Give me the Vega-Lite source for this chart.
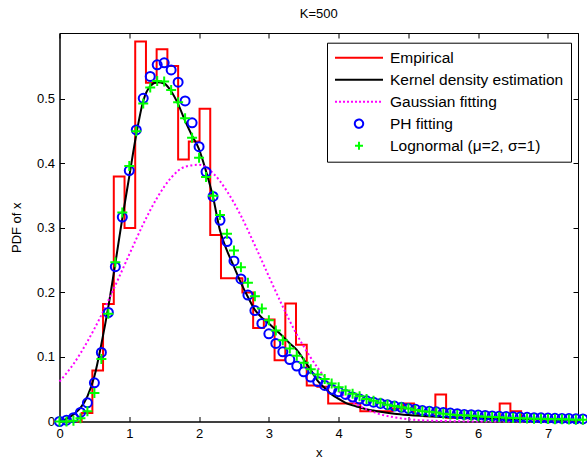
{
  "$schema": "https://vega.github.io/schema/vega-lite/v6.json",
  "width": 518.5,
  "height": 388.5,
  "autosize": {"type": "none"},
  "padding": {"left": 59.5, "top": 33, "right": 9, "bottom": 42.5},
  "background": "white",
  "title": {"text": "K=500", "fontSize": 13, "fontWeight": "normal", "font": "Liberation Sans", "offset": 12, "color": "black"},
  "config": {
    "font": "Liberation Sans",
    "view": {"stroke": "black", "strokeWidth": 1},
    "axis": {"grid": false, "domainColor": "black", "tickColor": "black", "labelColor": "black", "titleColor": "black", "labelFontSize": 13, "titleFontSize": 13, "titleFontWeight": "normal", "tickSize": -5, "labelFlush": false, "labelFont": "Liberation Sans", "titleFont": "Liberation Sans"}
  },
  "datasets": {
    "hist": [
      {"x": 0.010, "y": 0, "series": "Empirical"},
      {"x": 0.164, "y": 0.0, "series": "Empirical"},
      {"x": 0.317, "y": 0.013, "series": "Empirical"},
      {"x": 0.471, "y": 0.079, "series": "Empirical"},
      {"x": 0.624, "y": 0.182, "series": "Empirical"},
      {"x": 0.778, "y": 0.380, "series": "Empirical"},
      {"x": 0.932, "y": 0.300, "series": "Empirical"},
      {"x": 1.085, "y": 0.589, "series": "Empirical"},
      {"x": 1.239, "y": 0.525, "series": "Empirical"},
      {"x": 1.392, "y": 0.577, "series": "Empirical"},
      {"x": 1.546, "y": 0.551, "series": "Empirical"},
      {"x": 1.700, "y": 0.406, "series": "Empirical"},
      {"x": 1.853, "y": 0.434, "series": "Empirical"},
      {"x": 2.007, "y": 0.485, "series": "Empirical"},
      {"x": 2.160, "y": 0.289, "series": "Empirical"},
      {"x": 2.314, "y": 0.222, "series": "Empirical"},
      {"x": 2.468, "y": 0.222, "series": "Empirical"},
      {"x": 2.621, "y": 0.200, "series": "Empirical"},
      {"x": 2.775, "y": 0.145, "series": "Empirical"},
      {"x": 2.928, "y": 0.158, "series": "Empirical"},
      {"x": 3.082, "y": 0.095, "series": "Empirical"},
      {"x": 3.236, "y": 0.183, "series": "Empirical"},
      {"x": 3.389, "y": 0.119, "series": "Empirical"},
      {"x": 3.543, "y": 0.056, "series": "Empirical"},
      {"x": 3.696, "y": 0.054, "series": "Empirical"},
      {"x": 3.850, "y": 0.028, "series": "Empirical"},
      {"x": 4.004, "y": 0.028, "series": "Empirical"},
      {"x": 4.157, "y": 0.028, "series": "Empirical"},
      {"x": 4.311, "y": 0.016, "series": "Empirical"},
      {"x": 4.464, "y": 0.016, "series": "Empirical"},
      {"x": 4.618, "y": 0.016, "series": "Empirical"},
      {"x": 4.772, "y": 0.020, "series": "Empirical"},
      {"x": 4.925, "y": 0.028, "series": "Empirical"},
      {"x": 5.079, "y": 0.010, "series": "Empirical"},
      {"x": 5.232, "y": 0.008, "series": "Empirical"},
      {"x": 5.386, "y": 0.042, "series": "Empirical"},
      {"x": 5.540, "y": 0.006, "series": "Empirical"},
      {"x": 5.693, "y": 0.006, "series": "Empirical"},
      {"x": 5.847, "y": 0.005, "series": "Empirical"},
      {"x": 6.000, "y": 0.006, "series": "Empirical"},
      {"x": 6.154, "y": 0.004, "series": "Empirical"},
      {"x": 6.308, "y": 0.028, "series": "Empirical"},
      {"x": 6.461, "y": 0.016, "series": "Empirical"},
      {"x": 6.615, "y": 0.004, "series": "Empirical"},
      {"x": 6.768, "y": 0.003, "series": "Empirical"},
      {"x": 6.922, "y": 0.003, "series": "Empirical"},
      {"x": 7.076, "y": 0.003, "series": "Empirical"},
      {"x": 7.229, "y": 0.002, "series": "Empirical"},
      {"x": 7.383, "y": 0.002, "series": "Empirical"},
      {"x": 7.430, "y": 0.002, "series": "Empirical"}
    ],
    "kde": [
      {"x": 0.0, "y": 0.0, "series": "Kernel density estimation"},
      {"x": 0.1, "y": 0.004, "series": "Kernel density estimation"},
      {"x": 0.2, "y": 0.011, "series": "Kernel density estimation"},
      {"x": 0.3, "y": 0.021, "series": "Kernel density estimation"},
      {"x": 0.4, "y": 0.039, "series": "Kernel density estimation"},
      {"x": 0.5, "y": 0.070, "series": "Kernel density estimation"},
      {"x": 0.6, "y": 0.120, "series": "Kernel density estimation"},
      {"x": 0.7, "y": 0.178, "series": "Kernel density estimation"},
      {"x": 0.8, "y": 0.245, "series": "Kernel density estimation"},
      {"x": 0.9, "y": 0.315, "series": "Kernel density estimation"},
      {"x": 1.0, "y": 0.380, "series": "Kernel density estimation"},
      {"x": 1.1, "y": 0.445, "series": "Kernel density estimation"},
      {"x": 1.2, "y": 0.497, "series": "Kernel density estimation"},
      {"x": 1.3, "y": 0.520, "series": "Kernel density estimation"},
      {"x": 1.4, "y": 0.526, "series": "Kernel density estimation"},
      {"x": 1.5, "y": 0.524, "series": "Kernel density estimation"},
      {"x": 1.6, "y": 0.512, "series": "Kernel density estimation"},
      {"x": 1.7, "y": 0.492, "series": "Kernel density estimation"},
      {"x": 1.8, "y": 0.466, "series": "Kernel density estimation"},
      {"x": 1.9, "y": 0.443, "series": "Kernel density estimation"},
      {"x": 2.0, "y": 0.422, "series": "Kernel density estimation"},
      {"x": 2.1, "y": 0.388, "series": "Kernel density estimation"},
      {"x": 2.2, "y": 0.348, "series": "Kernel density estimation"},
      {"x": 2.3, "y": 0.296, "series": "Kernel density estimation"},
      {"x": 2.4, "y": 0.265, "series": "Kernel density estimation"},
      {"x": 2.5, "y": 0.240, "series": "Kernel density estimation"},
      {"x": 2.6, "y": 0.215, "series": "Kernel density estimation"},
      {"x": 2.7, "y": 0.193, "series": "Kernel density estimation"},
      {"x": 2.8, "y": 0.173, "series": "Kernel density estimation"},
      {"x": 2.9, "y": 0.161, "series": "Kernel density estimation"},
      {"x": 3.0, "y": 0.152, "series": "Kernel density estimation"},
      {"x": 3.1, "y": 0.142, "series": "Kernel density estimation"},
      {"x": 3.2, "y": 0.132, "series": "Kernel density estimation"},
      {"x": 3.3, "y": 0.121, "series": "Kernel density estimation"},
      {"x": 3.4, "y": 0.111, "series": "Kernel density estimation"},
      {"x": 3.5, "y": 0.096, "series": "Kernel density estimation"},
      {"x": 3.6, "y": 0.080, "series": "Kernel density estimation"},
      {"x": 3.7, "y": 0.063, "series": "Kernel density estimation"},
      {"x": 3.8, "y": 0.052, "series": "Kernel density estimation"},
      {"x": 3.9, "y": 0.042, "series": "Kernel density estimation"},
      {"x": 4.0, "y": 0.035, "series": "Kernel density estimation"},
      {"x": 4.1, "y": 0.029, "series": "Kernel density estimation"},
      {"x": 4.2, "y": 0.025, "series": "Kernel density estimation"},
      {"x": 4.3, "y": 0.022, "series": "Kernel density estimation"},
      {"x": 4.4, "y": 0.019, "series": "Kernel density estimation"},
      {"x": 4.5, "y": 0.017, "series": "Kernel density estimation"},
      {"x": 4.6, "y": 0.015, "series": "Kernel density estimation"},
      {"x": 4.8, "y": 0.012, "series": "Kernel density estimation"},
      {"x": 5.0, "y": 0.010, "series": "Kernel density estimation"},
      {"x": 5.5, "y": 0.007, "series": "Kernel density estimation"},
      {"x": 6.0, "y": 0.005, "series": "Kernel density estimation"},
      {"x": 6.5, "y": 0.004, "series": "Kernel density estimation"},
      {"x": 7.0, "y": 0.003, "series": "Kernel density estimation"},
      {"x": 7.43, "y": 0.002, "series": "Kernel density estimation"}
    ],
    "gauss": [
      {"x": 0.0, "y": 0.062, "series": "Gaussian fitting"},
      {"x": 0.2, "y": 0.089, "series": "Gaussian fitting"},
      {"x": 0.4, "y": 0.124, "series": "Gaussian fitting"},
      {"x": 0.6, "y": 0.165, "series": "Gaussian fitting"},
      {"x": 0.8, "y": 0.211, "series": "Gaussian fitting"},
      {"x": 1.0, "y": 0.259, "series": "Gaussian fitting"},
      {"x": 1.2, "y": 0.306, "series": "Gaussian fitting"},
      {"x": 1.4, "y": 0.347, "series": "Gaussian fitting"},
      {"x": 1.6, "y": 0.378, "series": "Gaussian fitting"},
      {"x": 1.8, "y": 0.395, "series": "Gaussian fitting"},
      {"x": 2.0, "y": 0.398, "series": "Gaussian fitting"},
      {"x": 2.2, "y": 0.385, "series": "Gaussian fitting"},
      {"x": 2.4, "y": 0.357, "series": "Gaussian fitting"},
      {"x": 2.6, "y": 0.319, "series": "Gaussian fitting"},
      {"x": 2.8, "y": 0.273, "series": "Gaussian fitting"},
      {"x": 3.0, "y": 0.225, "series": "Gaussian fitting"},
      {"x": 3.2, "y": 0.178, "series": "Gaussian fitting"},
      {"x": 3.4, "y": 0.135, "series": "Gaussian fitting"},
      {"x": 3.6, "y": 0.099, "series": "Gaussian fitting"},
      {"x": 3.8, "y": 0.069, "series": "Gaussian fitting"},
      {"x": 4.0, "y": 0.047, "series": "Gaussian fitting"},
      {"x": 4.2, "y": 0.030, "series": "Gaussian fitting"},
      {"x": 4.4, "y": 0.019, "series": "Gaussian fitting"},
      {"x": 4.6, "y": 0.011, "series": "Gaussian fitting"},
      {"x": 4.8, "y": 0.0065, "series": "Gaussian fitting"},
      {"x": 5.0, "y": 0.0036, "series": "Gaussian fitting"},
      {"x": 5.4, "y": 0.001, "series": "Gaussian fitting"},
      {"x": 6.0, "y": 0.0001, "series": "Gaussian fitting"},
      {"x": 7.43, "y": 0.0, "series": "Gaussian fitting"}
    ],
    "ph": [
      {"x": 0.0, "y": 0.000, "series": "PH fitting"},
      {"x": 0.1, "y": 0.002, "series": "PH fitting"},
      {"x": 0.2, "y": 0.006, "series": "PH fitting"},
      {"x": 0.3, "y": 0.014, "series": "PH fitting"},
      {"x": 0.4, "y": 0.029, "series": "PH fitting"},
      {"x": 0.5, "y": 0.060, "series": "PH fitting"},
      {"x": 0.6, "y": 0.107, "series": "PH fitting"},
      {"x": 0.7, "y": 0.169, "series": "PH fitting"},
      {"x": 0.8, "y": 0.240, "series": "PH fitting"},
      {"x": 0.9, "y": 0.317, "series": "PH fitting"},
      {"x": 1.0, "y": 0.389, "series": "PH fitting"},
      {"x": 1.1, "y": 0.452, "series": "PH fitting"},
      {"x": 1.2, "y": 0.501, "series": "PH fitting"},
      {"x": 1.3, "y": 0.535, "series": "PH fitting"},
      {"x": 1.4, "y": 0.553, "series": "PH fitting"},
      {"x": 1.5, "y": 0.556, "series": "PH fitting"},
      {"x": 1.6, "y": 0.545, "series": "PH fitting"},
      {"x": 1.7, "y": 0.526, "series": "PH fitting"},
      {"x": 1.8, "y": 0.497, "series": "PH fitting"},
      {"x": 1.9, "y": 0.463, "series": "PH fitting"},
      {"x": 2.0, "y": 0.426, "series": "PH fitting"},
      {"x": 2.1, "y": 0.387, "series": "PH fitting"},
      {"x": 2.2, "y": 0.349, "series": "PH fitting"},
      {"x": 2.3, "y": 0.312, "series": "PH fitting"},
      {"x": 2.4, "y": 0.279, "series": "PH fitting"},
      {"x": 2.5, "y": 0.249, "series": "PH fitting"},
      {"x": 2.6, "y": 0.221, "series": "PH fitting"},
      {"x": 2.7, "y": 0.196, "series": "PH fitting"},
      {"x": 2.8, "y": 0.172, "series": "PH fitting"},
      {"x": 2.9, "y": 0.152, "series": "PH fitting"},
      {"x": 3.0, "y": 0.136, "series": "PH fitting"},
      {"x": 3.1, "y": 0.121, "series": "PH fitting"},
      {"x": 3.2, "y": 0.108, "series": "PH fitting"},
      {"x": 3.3, "y": 0.096, "series": "PH fitting"},
      {"x": 3.4, "y": 0.086, "series": "PH fitting"},
      {"x": 3.5, "y": 0.077, "series": "PH fitting"},
      {"x": 3.6, "y": 0.069, "series": "PH fitting"},
      {"x": 3.7, "y": 0.062, "series": "PH fitting"},
      {"x": 3.8, "y": 0.056, "series": "PH fitting"},
      {"x": 3.9, "y": 0.050, "series": "PH fitting"},
      {"x": 4.0, "y": 0.046, "series": "PH fitting"},
      {"x": 4.1, "y": 0.042, "series": "PH fitting"},
      {"x": 4.2, "y": 0.038, "series": "PH fitting"},
      {"x": 4.3, "y": 0.035, "series": "PH fitting"},
      {"x": 4.4, "y": 0.032, "series": "PH fitting"},
      {"x": 4.5, "y": 0.030, "series": "PH fitting"},
      {"x": 4.6, "y": 0.028, "series": "PH fitting"},
      {"x": 4.7, "y": 0.026, "series": "PH fitting"},
      {"x": 4.8, "y": 0.024, "series": "PH fitting"},
      {"x": 4.9, "y": 0.022, "series": "PH fitting"},
      {"x": 5.0, "y": 0.020, "series": "PH fitting"},
      {"x": 5.1, "y": 0.019, "series": "PH fitting"},
      {"x": 5.2, "y": 0.017, "series": "PH fitting"},
      {"x": 5.3, "y": 0.016, "series": "PH fitting"},
      {"x": 5.4, "y": 0.015, "series": "PH fitting"},
      {"x": 5.5, "y": 0.014, "series": "PH fitting"},
      {"x": 5.6, "y": 0.013, "series": "PH fitting"},
      {"x": 5.7, "y": 0.012, "series": "PH fitting"},
      {"x": 5.8, "y": 0.011, "series": "PH fitting"},
      {"x": 5.9, "y": 0.0105, "series": "PH fitting"},
      {"x": 6.0, "y": 0.010, "series": "PH fitting"},
      {"x": 6.1, "y": 0.0093, "series": "PH fitting"},
      {"x": 6.2, "y": 0.0087, "series": "PH fitting"},
      {"x": 6.3, "y": 0.0082, "series": "PH fitting"},
      {"x": 6.4, "y": 0.0077, "series": "PH fitting"},
      {"x": 6.5, "y": 0.0072, "series": "PH fitting"},
      {"x": 6.6, "y": 0.0068, "series": "PH fitting"},
      {"x": 6.7, "y": 0.0064, "series": "PH fitting"},
      {"x": 6.8, "y": 0.0060, "series": "PH fitting"},
      {"x": 6.9, "y": 0.0057, "series": "PH fitting"},
      {"x": 7.0, "y": 0.0054, "series": "PH fitting"},
      {"x": 7.1, "y": 0.0050, "series": "PH fitting"},
      {"x": 7.2, "y": 0.0047, "series": "PH fitting"},
      {"x": 7.3, "y": 0.0045, "series": "PH fitting"},
      {"x": 7.4, "y": 0.0042, "series": "PH fitting"},
      {"x": 7.5, "y": 0.0040, "series": "PH fitting"}
    ],
    "logn": [
      {"x": 0.0, "y": 0.000, "series": "Lognormal (μ=2, σ=1)"},
      {"x": 0.1, "y": 0.000, "series": "Lognormal (μ=2, σ=1)"},
      {"x": 0.2, "y": 0.001, "series": "Lognormal (μ=2, σ=1)"},
      {"x": 0.3, "y": 0.005, "series": "Lognormal (μ=2, σ=1)"},
      {"x": 0.4, "y": 0.016, "series": "Lognormal (μ=2, σ=1)"},
      {"x": 0.5, "y": 0.044, "series": "Lognormal (μ=2, σ=1)"},
      {"x": 0.6, "y": 0.097, "series": "Lognormal (μ=2, σ=1)"},
      {"x": 0.7, "y": 0.167, "series": "Lognormal (μ=2, σ=1)"},
      {"x": 0.8, "y": 0.247, "series": "Lognormal (μ=2, σ=1)"},
      {"x": 0.9, "y": 0.324, "series": "Lognormal (μ=2, σ=1)"},
      {"x": 1.0, "y": 0.396, "series": "Lognormal (μ=2, σ=1)"},
      {"x": 1.1, "y": 0.450, "series": "Lognormal (μ=2, σ=1)"},
      {"x": 1.2, "y": 0.493, "series": "Lognormal (μ=2, σ=1)"},
      {"x": 1.3, "y": 0.518, "series": "Lognormal (μ=2, σ=1)"},
      {"x": 1.4, "y": 0.528, "series": "Lognormal (μ=2, σ=1)"},
      {"x": 1.5, "y": 0.527, "series": "Lognormal (μ=2, σ=1)"},
      {"x": 1.6, "y": 0.514, "series": "Lognormal (μ=2, σ=1)"},
      {"x": 1.7, "y": 0.495, "series": "Lognormal (μ=2, σ=1)"},
      {"x": 1.8, "y": 0.470, "series": "Lognormal (μ=2, σ=1)"},
      {"x": 1.9, "y": 0.440, "series": "Lognormal (μ=2, σ=1)"},
      {"x": 2.0, "y": 0.409, "series": "Lognormal (μ=2, σ=1)"},
      {"x": 2.1, "y": 0.379, "series": "Lognormal (μ=2, σ=1)"},
      {"x": 2.2, "y": 0.350, "series": "Lognormal (μ=2, σ=1)"},
      {"x": 2.3, "y": 0.320, "series": "Lognormal (μ=2, σ=1)"},
      {"x": 2.4, "y": 0.291, "series": "Lognormal (μ=2, σ=1)"},
      {"x": 2.5, "y": 0.265, "series": "Lognormal (μ=2, σ=1)"},
      {"x": 2.6, "y": 0.239, "series": "Lognormal (μ=2, σ=1)"},
      {"x": 2.7, "y": 0.215, "series": "Lognormal (μ=2, σ=1)"},
      {"x": 2.8, "y": 0.194, "series": "Lognormal (μ=2, σ=1)"},
      {"x": 2.9, "y": 0.175, "series": "Lognormal (μ=2, σ=1)"},
      {"x": 3.0, "y": 0.157, "series": "Lognormal (μ=2, σ=1)"},
      {"x": 3.1, "y": 0.141, "series": "Lognormal (μ=2, σ=1)"},
      {"x": 3.2, "y": 0.126, "series": "Lognormal (μ=2, σ=1)"},
      {"x": 3.3, "y": 0.113, "series": "Lognormal (μ=2, σ=1)"},
      {"x": 3.4, "y": 0.102, "series": "Lognormal (μ=2, σ=1)"},
      {"x": 3.5, "y": 0.091, "series": "Lognormal (μ=2, σ=1)"},
      {"x": 3.6, "y": 0.081, "series": "Lognormal (μ=2, σ=1)"},
      {"x": 3.7, "y": 0.073, "series": "Lognormal (μ=2, σ=1)"},
      {"x": 3.8, "y": 0.066, "series": "Lognormal (μ=2, σ=1)"},
      {"x": 3.9, "y": 0.059, "series": "Lognormal (μ=2, σ=1)"},
      {"x": 4.0, "y": 0.053, "series": "Lognormal (μ=2, σ=1)"},
      {"x": 4.1, "y": 0.048, "series": "Lognormal (μ=2, σ=1)"},
      {"x": 4.2, "y": 0.043, "series": "Lognormal (μ=2, σ=1)"},
      {"x": 4.3, "y": 0.039, "series": "Lognormal (μ=2, σ=1)"},
      {"x": 4.4, "y": 0.035, "series": "Lognormal (μ=2, σ=1)"},
      {"x": 4.5, "y": 0.032, "series": "Lognormal (μ=2, σ=1)"},
      {"x": 4.6, "y": 0.029, "series": "Lognormal (μ=2, σ=1)"},
      {"x": 4.7, "y": 0.026, "series": "Lognormal (μ=2, σ=1)"},
      {"x": 4.8, "y": 0.024, "series": "Lognormal (μ=2, σ=1)"},
      {"x": 4.9, "y": 0.022, "series": "Lognormal (μ=2, σ=1)"},
      {"x": 5.0, "y": 0.020, "series": "Lognormal (μ=2, σ=1)"},
      {"x": 5.1, "y": 0.018, "series": "Lognormal (μ=2, σ=1)"},
      {"x": 5.2, "y": 0.016, "series": "Lognormal (μ=2, σ=1)"},
      {"x": 5.3, "y": 0.015, "series": "Lognormal (μ=2, σ=1)"},
      {"x": 5.4, "y": 0.014, "series": "Lognormal (μ=2, σ=1)"},
      {"x": 5.5, "y": 0.012, "series": "Lognormal (μ=2, σ=1)"},
      {"x": 5.6, "y": 0.011, "series": "Lognormal (μ=2, σ=1)"},
      {"x": 5.7, "y": 0.010, "series": "Lognormal (μ=2, σ=1)"},
      {"x": 5.8, "y": 0.0095, "series": "Lognormal (μ=2, σ=1)"},
      {"x": 5.9, "y": 0.0088, "series": "Lognormal (μ=2, σ=1)"},
      {"x": 6.0, "y": 0.0081, "series": "Lognormal (μ=2, σ=1)"},
      {"x": 6.1, "y": 0.0075, "series": "Lognormal (μ=2, σ=1)"},
      {"x": 6.2, "y": 0.0069, "series": "Lognormal (μ=2, σ=1)"},
      {"x": 6.3, "y": 0.0064, "series": "Lognormal (μ=2, σ=1)"},
      {"x": 6.4, "y": 0.0059, "series": "Lognormal (μ=2, σ=1)"},
      {"x": 6.5, "y": 0.0055, "series": "Lognormal (μ=2, σ=1)"},
      {"x": 6.6, "y": 0.0051, "series": "Lognormal (μ=2, σ=1)"},
      {"x": 6.7, "y": 0.0047, "series": "Lognormal (μ=2, σ=1)"},
      {"x": 6.8, "y": 0.0044, "series": "Lognormal (μ=2, σ=1)"},
      {"x": 6.9, "y": 0.0041, "series": "Lognormal (μ=2, σ=1)"},
      {"x": 7.0, "y": 0.0038, "series": "Lognormal (μ=2, σ=1)"},
      {"x": 7.1, "y": 0.0035, "series": "Lognormal (μ=2, σ=1)"},
      {"x": 7.2, "y": 0.0033, "series": "Lognormal (μ=2, σ=1)"},
      {"x": 7.3, "y": 0.0031, "series": "Lognormal (μ=2, σ=1)"},
      {"x": 7.4, "y": 0.0029, "series": "Lognormal (μ=2, σ=1)"},
      {"x": 7.5, "y": 0.0027, "series": "Lognormal (μ=2, σ=1)"}
    ]
  },
  "layer": [
    {
      "data": {"name": "hist"},
      "mark": {"type": "line", "interpolate": "step-after", "strokeWidth": 2},
      "encoding": {
        "x": {"field": "x", "type": "quantitative", "scale": {"domain": [0, 7.43], "nice": false, "zero": false},
          "axis": {"orient": "bottom", "values": [0, 1, 2, 3, 4, 5, 6, 7], "format": "d", "title": "x", "labelPadding": 11, "titlePadding": 6}},
        "y": {"field": "y", "type": "quantitative", "scale": {"domain": [0, 0.6023], "nice": false},
          "axis": {"orient": "left", "values": [0, 0.1, 0.2, 0.3, 0.4, 0.5], "format": "~g", "title": "PDF of x", "labelPadding": 10, "titlePadding": 13}},
        "color": {"field": "series", "type": "nominal",
          "scale": {"domain": ["Empirical", "Kernel density estimation", "Gaussian fitting", "PH fitting", "Lognormal (μ=2, σ=1)"],
                    "range": ["#ff0000", "#000000", "#ff00ff", "#0000ff", "#00ff00"]},
          "legend": {
            "title": null, "orient": "none", "legendX": 267.5, "legendY": 9.7,
            "strokeColor": "black", "fillColor": "white", "padding": 7, "cornerRadius": 0,
            "labelFontSize": 15.5, "labelFont": "Liberation Sans", "labelColor": "black", "labelLimit": 400,
            "symbolType": "stroke", "symbolSize": 2304, "symbolStrokeWidth": 2, "labelOffset": 6, "rowPadding": 5, "clipHeight": 16,
            "encode": {"symbols": {"update": {
              "shape": {"signal": "datum.index === 3 ? 'circle' : (datum.index === 4 ? 'M-1,0H1M0,-1V1' : 'stroke')"},
              "size": {"signal": "datum.index === 3 ? 70 : (datum.index === 4 ? 64 : 2304)"},
              "strokeDash": {"signal": "datum.index === 2 ? [2, 2] : [1, 0]"},
              "fill": {"value": "transparent"}
            }}}
          }}
      }
    },
    {
      "data": {"name": "kde"},
      "mark": {"type": "line", "interpolate": "monotone", "strokeWidth": 2},
      "encoding": {
        "x": {"field": "x", "type": "quantitative", "axis": null},
        "y": {"field": "y", "type": "quantitative", "axis": null},
        "color": {"field": "series", "type": "nominal"}
      }
    },
    {
      "data": {"name": "gauss"},
      "mark": {"type": "line", "interpolate": "monotone", "strokeWidth": 2, "strokeDash": [2, 2.5]},
      "encoding": {
        "x": {"field": "x", "type": "quantitative", "axis": null},
        "y": {"field": "y", "type": "quantitative", "axis": null},
        "color": {"field": "series", "type": "nominal"}
      }
    },
    {
      "data": {"name": "ph"},
      "mark": {"type": "point", "shape": "circle", "filled": false, "size": 81, "strokeWidth": 2, "opacity": 1},
      "encoding": {
        "x": {"field": "x", "type": "quantitative", "axis": null},
        "y": {"field": "y", "type": "quantitative", "axis": null},
        "color": {"field": "series", "type": "nominal"}
      }
    },
    {
      "data": {"name": "logn"},
      "mark": {"type": "point", "shape": "M-1,0H1M0,-1V1", "filled": false, "size": 100, "strokeWidth": 2, "opacity": 1},
      "encoding": {
        "x": {"field": "x", "type": "quantitative", "axis": null},
        "y": {"field": "y", "type": "quantitative", "axis": null},
        "color": {"field": "series", "type": "nominal"}
      }
    },
    {
      "data": {"name": "gauss"},
      "mark": {"type": "point", "opacity": 0},
      "encoding": {
        "x": {"field": "x", "type": "quantitative", "axis": {"orient": "top", "values": [0, 1, 2, 3, 4, 5, 6, 7], "labels": false, "title": null}},
        "y": {"field": "y", "type": "quantitative", "axis": {"orient": "right", "values": [0, 0.1, 0.2, 0.3, 0.4, 0.5], "labels": false, "title": null}}
      }
    }
  ],
  "resolve": {"axis": {"x": "independent", "y": "independent"}}
}
